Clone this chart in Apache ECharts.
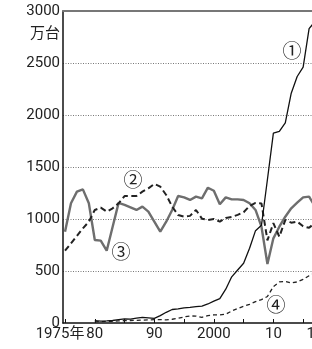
<!DOCTYPE html>
<html>
<head>
<meta charset="utf-8">
<script src="https://cdn.jsdelivr.net/npm/echarts@6/dist/echarts.min.js"></script>
<style>
html, body { margin: 0; padding: 0; background: #fff; }
#chart { width: 312px; height: 349px; }
</style>
</head>
<body>
<div id="chart"></div>
<script>
// 自動車生産台数（万台）
var years = [1975, 1976, 1977, 1978, 1979, 1980, 1981, 1982, 1983, 1984,
    1985, 1986, 1987, 1988, 1989, 1990, 1991, 1992, 1993, 1994,
    1995, 1996, 1997, 1998, 1999, 2000, 2001, 2002, 2003, 2004,
    2005, 2006, 2007, 2008, 2009, 2010, 2011, 2012, 2013, 2014,
    2015, 2016, 2017];
// ① 中国
var china = [null, null, null, null, null, 22, 18, 20, 24, 32,
    40, 37, 47, 55, 50, 45, 71, 103, 130, 135,
    145, 150, 157, 163, 183, 210, 234, 325, 444, 510,
    574, 718, 888, 940, 1380, 1826, 1842, 1925, 2210, 2370,
    2460, 2830, 2900];
// ② 日本
var japan = [695, 766, 837, 910, 974, 1087, 1109, 1071, 1103, 1151,
    1221, 1221, 1221, 1263, 1295, 1337, 1311, 1231, 1119, 1038,
    1022, 1030, 1087, 1003, 990, 1000, 975, 1010, 1020, 1040,
    1065, 1125, 1155, 1150, 795, 960, 830, 990, 965, 975,
    930, 915, 965];
// ③ アメリカ
var usa = [878, 1151, 1263, 1285, 1151, 798, 792, 695, 926, 1155,
    1135, 1112, 1087, 1119, 1071, 974, 878, 974, 1087, 1221,
    1208, 1183, 1215, 1199, 1301, 1272, 1141, 1208, 1189, 1189,
    1183, 1151, 1087, 926, 567, 814, 926, 1022, 1103, 1157,
    1208, 1215, 1120];
// ④ インド
var india = [null, null, null, null, null, 11, 13, 15, 17, 20,
    22, 24, 26, 28, 30, 32, 33, 30, 36, 45,
    58, 68, 66, 55, 70, 78, 77, 85, 115, 140,
    160, 180, 205, 225, 255, 350, 395, 400, 385, 395,
    420, 455, 480];

var tickYears = [1975, 1980, 1985, 1990, 1995, 2000, 2005, 2010, 2015];
var labelYears = [1975, 1980, 1990, 2000, 2010, 2017];
var labelTexts = ['1975年', '80', '90', '2000', '10', '17'];

function pairs(arr) {
    return years.map(function (y, i) { return [y, arr[i]]; });
}

var myChart = echarts.init(document.getElementById('chart'));
var font = 'Roboto, "Noto Sans CJK JP", sans-serif';

option = {
    animation: false,
    backgroundColor: '#fff',
    grid: {left: 63, top: 11, width: 258, height: 312, outerBoundsMode: 'none'},
    xAxis: [{
        type: 'value',
        min: 1974.66,
        max: 2018,
        axisLine: {lineStyle: {color: '#111', width: 1.5}},
        axisTick: {
            inside: true,
            length: 4,
            customValues: tickYears,
            lineStyle: {color: '#111', width: 1}
        },
        axisLabel: {
            customValues: labelYears,
            margin: 4,
            color: '#222',
            fontSize: 15,
            fontFamily: font,
            formatter: function (v) {
                var i = labelYears.indexOf(Math.round(v));
                if (i === 0) return '{a|' + labelTexts[0] + '}';
                return i >= 0 ? labelTexts[i] : '';
            },
            rich: {
                a: {fontSize: 15, fontFamily: font, color: '#222', padding: [0, 10, 0, 0]}
            }
        },
        splitLine: {show: false}
    }, {
        // 上枠
        type: 'value',
        position: 'top',
        min: 1974.66,
        max: 2018,
        axisLine: {lineStyle: {color: '#777', width: 2}},
        axisTick: {show: false},
        axisLabel: {show: false},
        splitLine: {show: false}
    }],
    yAxis: {
        type: 'value',
        min: 0,
        max: 3000,
        interval: 500,
        axisLine: {show: true, lineStyle: {color: '#111', width: 1.5}},
        axisTick: {show: false},
        axisLabel: {
            margin: 3, color: '#222', fontSize: 15, fontFamily: font,
            formatter: function (v) { return String(v); }
        },
        splitLine: {
            showMinLine: false,
            showMaxLine: false,
            lineStyle: {color: '#555', width: 0.8, type: [1, 1.5]}
        }
    },
    series: [{
        name: 'アメリカ',
        type: 'line',
        symbol: 'none',
        data: pairs(usa),
        lineStyle: {color: '#6e6e6e', width: 2.4}
    }, {
        name: '日本',
        type: 'line',
        symbol: 'none',
        data: pairs(japan),
        lineStyle: {color: '#222', width: 2, type: [6, 3.5]}
    }, {
        name: 'インド',
        type: 'line',
        symbol: 'none',
        data: pairs(india),
        lineStyle: {color: '#222', width: 1.3, type: [4, 3]}
    }, {
        name: '中国',
        type: 'line',
        symbol: 'none',
        data: pairs(china),
        lineStyle: {color: '#111', width: 1.3}
    }],
    graphic: [{
        type: 'text',
        right: 312 - 60,
        top: 25,
        style: {text: '万台', fontSize: 15, fontFamily: '"Noto Sans CJK JP"', fill: '#222'}
    }, {
        type: 'text', x: 292, y: 51,
        style: {text: '①', fontSize: 19, fontFamily: '"Noto Sans CJK JP"', fill: '#222', align: 'center', verticalAlign: 'middle'}
    }, {
        type: 'text', x: 133, y: 180,
        style: {text: '②', fontSize: 19, fontFamily: '"Noto Sans CJK JP"', fill: '#222', align: 'center', verticalAlign: 'middle'}
    }, {
        type: 'text', x: 121, y: 252,
        style: {text: '③', fontSize: 19, fontFamily: '"Noto Sans CJK JP"', fill: '#222', align: 'center', verticalAlign: 'middle'}
    }, {
        type: 'text', x: 276, y: 305,
        style: {text: '④', fontSize: 19, fontFamily: '"Noto Sans CJK JP"', fill: '#222', align: 'center', verticalAlign: 'middle'}
    }]
};
myChart.setOption(option);
</script>
</body>
</html>
